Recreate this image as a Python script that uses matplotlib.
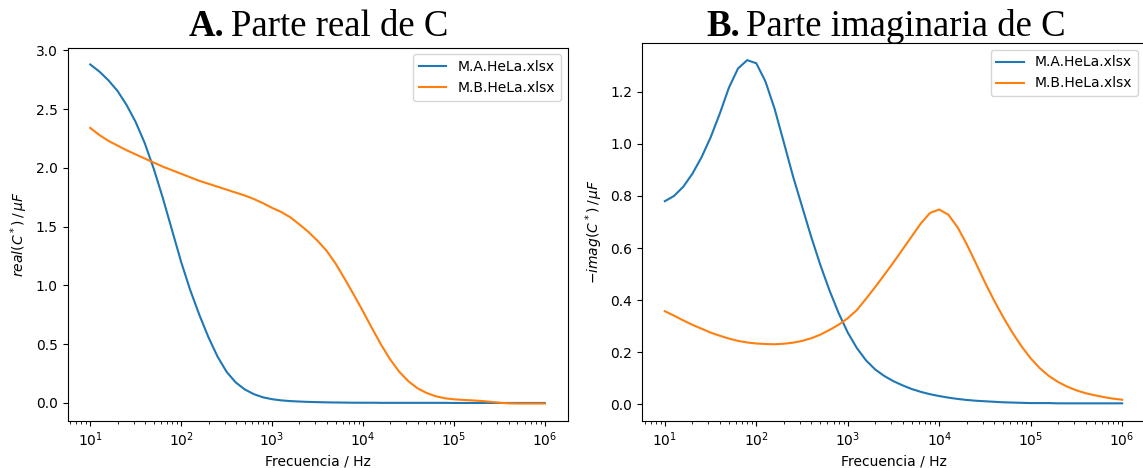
import numpy as np
import matplotlib
matplotlib.use("Agg")
import matplotlib.pyplot as plt

# frecuencias (Hz), 10 puntos por decada de 10 Hz a 1 MHz
freq = np.logspace(1, 6, 51)

# parte real de C (uF)
realA = [2.88, 2.82, 2.745, 2.655, 2.535, 2.39, 2.21, 1.99, 1.74, 1.47,
         1.20, 0.96, 0.75, 0.56, 0.395, 0.265, 0.175, 0.115, 0.075, 0.048,
         0.032, 0.022, 0.016, 0.012, 0.009, 0.007, 0.005, 0.004, 0.003, 0.002,
         0.002, 0.002, 0.001, 0.001, 0.001, 0.001, 0.001, 0.001, 0.001, 0.001,
         0.0, 0.0, 0.0, 0.0, 0.0, 0.0, 0.0, 0.0, 0.0, 0.0, 0.0]
realB = [2.34, 2.28, 2.23, 2.19, 2.15, 2.115, 2.08, 2.045, 2.01, 1.98,
         1.95, 1.92, 1.89, 1.865, 1.84, 1.815, 1.79, 1.765, 1.735, 1.70,
         1.66, 1.625, 1.58, 1.52, 1.455, 1.38, 1.295, 1.185, 1.055, 0.92,
         0.78, 0.635, 0.495, 0.37, 0.265, 0.185, 0.125, 0.085, 0.057, 0.040,
         0.031, 0.026, 0.022, 0.017, 0.010, 0.002, -0.003, -0.005, -0.005, -0.005, -0.005]

# -parte imaginaria de C (uF)
imagA = [0.78, 0.80, 0.835, 0.885, 0.948, 1.025, 1.116, 1.216, 1.29, 1.322,
         1.31, 1.24, 1.135, 1.007, 0.877, 0.76, 0.643, 0.535, 0.437, 0.35,
         0.275, 0.215, 0.168, 0.133, 0.108, 0.088, 0.072, 0.058, 0.047, 0.038,
         0.031, 0.025, 0.020, 0.016, 0.013, 0.011, 0.009, 0.007, 0.006, 0.005,
         0.004, 0.004, 0.004, 0.003, 0.003, 0.003, 0.003, 0.003, 0.003, 0.003, 0.003]
imagB = [0.357, 0.34, 0.322, 0.305, 0.29, 0.275, 0.263, 0.252, 0.243, 0.237,
         0.233, 0.231, 0.230, 0.232, 0.236, 0.243, 0.253, 0.267, 0.285, 0.305,
         0.33, 0.362, 0.405, 0.45, 0.497, 0.545, 0.595, 0.645, 0.695, 0.735,
         0.748, 0.728, 0.68, 0.615, 0.542, 0.468, 0.398, 0.334, 0.275, 0.222,
         0.176, 0.138, 0.108, 0.085, 0.067, 0.053, 0.042, 0.034, 0.027, 0.021, 0.017]

labels = ["M.A.HeLa.xlsx", "M.B.HeLa.xlsx"]

plt.rcParams['font.size'] = 10

fig = plt.figure(figsize=(11.43, 4.68), dpi=100)
ax1 = fig.add_axes([67.5/1143, 1-420.5/468, 500/1143, 373/468])
ax2 = fig.add_axes([642/1143, 1-420.5/468, 503/1143, 377.5/468])

ax1.plot(freq, realA, label=labels[0])
ax1.plot(freq, realB, label=labels[1])
ax1.set_xscale('log')
ax1.set_xlabel('Frecuencia / Hz')
ax1.set_ylabel(r'$real(C^*)\,/\,\mu F$')
ax1.legend(loc='upper right')

ax2.plot(freq, imagA, label=labels[0])
ax2.plot(freq, imagB, label=labels[1])
ax2.set_xscale('log')
ax2.set_xlabel('Frecuencia / Hz')
ax2.set_ylabel(r'$-imag(C^*)\,/\,\mu F$')
ax2.legend(loc='upper right')


def titulo(x0, letra, resto):
    r = fig.canvas.get_renderer()
    t = fig.text(x0, 1-36/468, letra, family='Liberation Serif', weight='bold',
                 fontsize=26.5, va='baseline', ha='left')
    w = t.get_window_extent(r).width
    fig.text(x0 + (w + 6.5)/1143, 1-36/468, resto, family='Liberation Serif',
             fontsize=26.5, va='baseline', ha='left')


titulo(189/1143, 'A.', 'Parte real de C')
titulo(706/1143, 'B.', 'Parte imaginaria de C')

fig.savefig('out.png', dpi=100)
